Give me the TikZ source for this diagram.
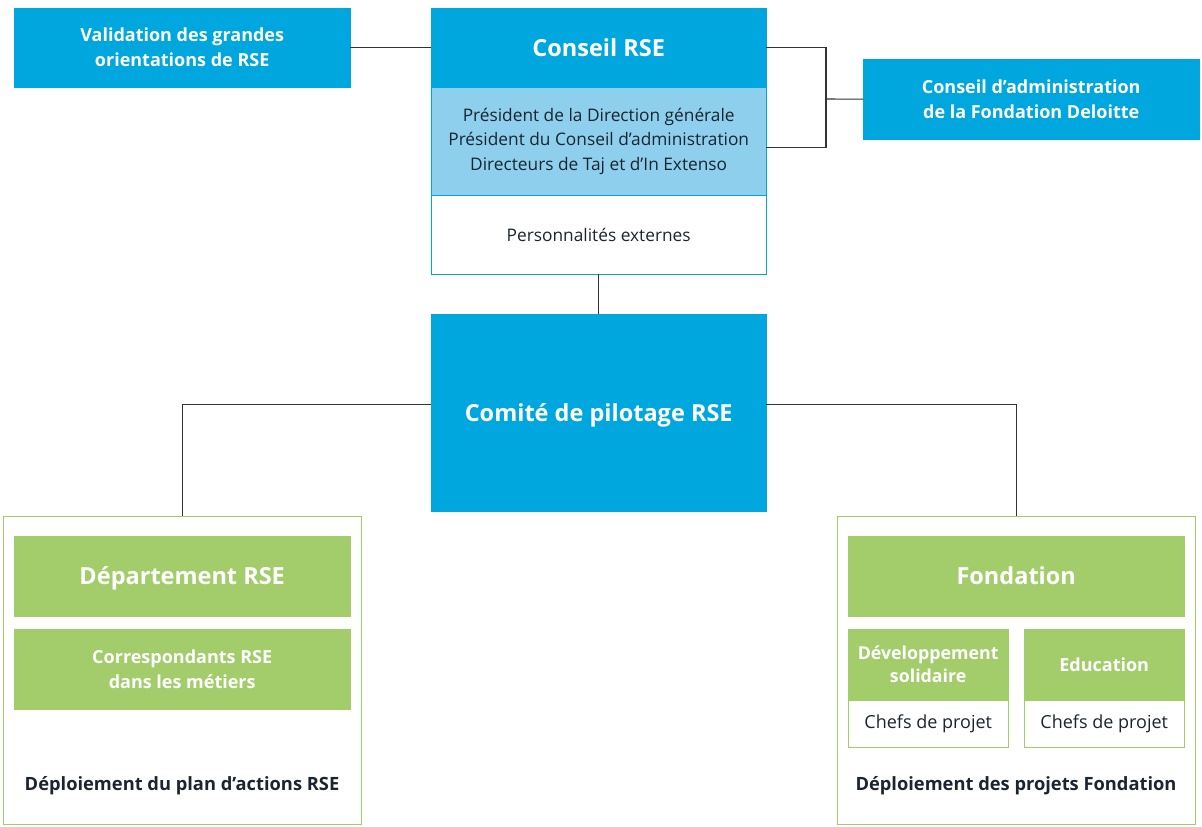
\documentclass[tikz,border=0pt]{standalone}
\usepackage{fontspec}
\setmainfont{Open Sans}
\definecolor{dblue}{HTML}{00A7DE}
\definecolor{lblue}{HTML}{8DCFEC}
\definecolor{dgreen}{HTML}{A3CD6B}
\definecolor{dtext}{HTML}{1A2530}
\definecolor{dline}{HTML}{333333}
\tikzset{
  box/.style={rectangle, inner sep=0pt, align=center, anchor=north west},
  bigfont/.style={font=\bfseries\fontsize{23.5}{28}\selectfont, text height=17pt, text depth=0pt},
  bluebox/.style={box, fill=dblue, draw=dblue, text=white, font=\bfseries\fontsize{18}{25}\selectfont},
  lbluebox/.style={box, fill=lblue, draw=dblue, text=dtext, font=\fontsize{17.3}{24.5}\selectfont},
  wbluebox/.style={box, fill=white, draw=dblue, text=dtext, font=\fontsize{17.3}{24.5}\selectfont},
  greenbox/.style={box, fill=dgreen, draw=dgreen, text=white, font=\bfseries\fontsize{18}{25}\selectfont},
  wgreenbox/.style={box, fill=white, draw=dgreen, text=dtext, font=\fontsize{18}{24}\selectfont},
  frame/.style={box, draw=dgreen, line width=1.2pt},
  conn/.style={draw=dline, line width=1.1pt},
  footnote/.style={text=dtext, font=\bfseries\fontsize{18.3}{22}\selectfont},
}
\begin{document}
\begin{tikzpicture}[x=1pt,y=-1pt]
\useasboundingbox (0,0) rectangle (1202,827);
% frames
\node[frame, minimum width=358pt, minimum height=308pt] (lframe) at (3,516) {};
\node[frame, minimum width=358pt, minimum height=308pt] (rframe) at (837,516) {};
% top
\node[bluebox, minimum width=336pt, minimum height=79pt] (val) at (14,8) {Validation des grandes\\orientations de RSE};
\node[bluebox, bigfont, minimum width=335pt, minimum height=79pt] (cons) at (431,8) {Conseil RSE};
\node[lbluebox, minimum width=335pt, minimum height=108pt] (memb) at (431,87) {Président de la Direction générale\\Président du Conseil d’administration\\Directeurs de Taj et d’In Extenso};
\node[wbluebox, minimum width=335pt, minimum height=79pt] (ext) at (431,195) {Personnalités externes};
\node[bluebox, minimum width=336pt, minimum height=80pt] (fda) at (863,59) {Conseil d’administration\\de la Fondation Deloitte};
\node[bluebox, bigfont, minimum width=335pt, minimum height=197pt] (copil) at (431,314) {Comité de pilotage RSE};
% left branch
\node[greenbox, bigfont, minimum width=336pt, minimum height=80pt] (dept) at (14,536) {Département RSE};
\node[greenbox, minimum width=336pt, minimum height=80pt] (corr) at (14,629) {Correspondants RSE\\dans les métiers};
\node[footnote] (ldep) at (182,786) {Déploiement du plan d’actions RSE};
% right branch
\node[greenbox, bigfont, minimum width=336pt, minimum height=80pt] (fond) at (848,536) {Fondation};
\node[greenbox, minimum width=160pt, minimum height=71pt, font=\bfseries\fontsize{17.8}{23}\selectfont] (dev) at (848,629) {Développement\\solidaire};
\node[wgreenbox, minimum width=160pt, minimum height=47pt] (devc) at (848,700) {Chefs de projet};
\node[greenbox, minimum width=160pt, minimum height=71pt] (edu) at (1024,629) {Education};
\node[wgreenbox, minimum width=160pt, minimum height=47pt] (educ) at (1024,700) {Chefs de projet};
\node[footnote] (rdep) at (1016,786) {Déploiement des projets Fondation};
% connectors
\coordinate (brk) at (826,99);
\draw[conn] (val.east) -- (cons.west);
\draw[conn] (cons.east) -| (brk) |- ([yshift=-6pt]memb.east);
\draw[conn] (brk) -- (fda.west);
\draw[conn] (ext.south) -- (copil.north);
\draw[conn] ([yshift=8pt]copil.west) -| (lframe.north);
\draw[conn] ([yshift=8pt]copil.east) -| (rframe.north);
\end{tikzpicture}
\end{document}
